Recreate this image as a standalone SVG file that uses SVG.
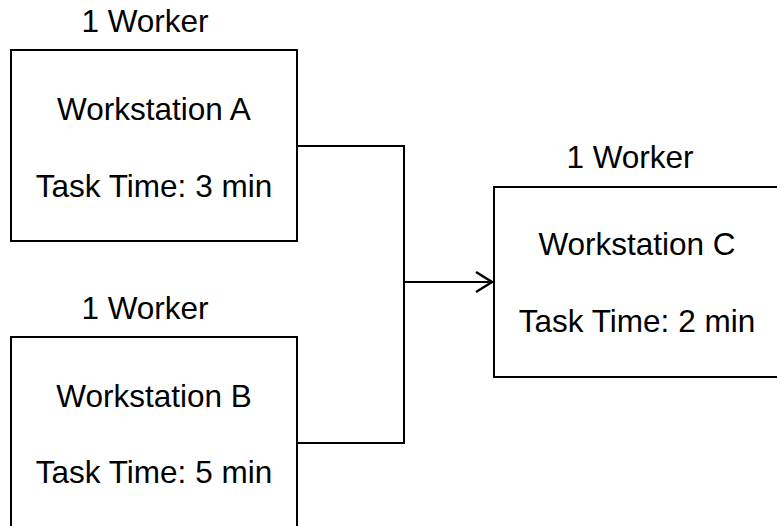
<svg xmlns="http://www.w3.org/2000/svg" width="777" height="526" viewBox="0 0 777 526">
<defs>
<style>
.box{fill:#fff;stroke:#000;stroke-width:2}
.t{font-family:"Liberation Sans",Arial,sans-serif;font-size:31.5px;fill:#000;text-anchor:middle}
.c{fill:none;stroke:#000;stroke-width:2}
</style>
<marker id="arr" markerWidth="20" markerHeight="24" refX="18" refY="11" orient="auto" markerUnits="userSpaceOnUse">
<path d="M2,1 L18,11 L2,21" fill="none" stroke="#000" stroke-width="2.4"/>
</marker>
</defs>
<rect width="777" height="526" fill="#fff"/>
<g id="connectors">
<polyline class="c" points="297,146 404,146 404,443 297,443"/>
<line class="c" x1="404" y1="282" x2="492" y2="282" marker-end="url(#arr)"/>
</g>
<g id="nodeA">
<text class="t" x="145" y="32">1 Worker</text>
<rect class="box" x="11" y="50" width="286" height="191"/>
<text class="t" x="154" y="120">Workstation A</text>
<text class="t" x="154" y="197">Task Time: 3 min</text>
</g>
<g id="nodeB">
<text class="t" x="145" y="319">1 Worker</text>
<rect class="box" x="11" y="337" width="286" height="191"/>
<text class="t" x="154" y="407">Workstation B</text>
<text class="t" x="154" y="483">Task Time: 5 min</text>
</g>
<g id="nodeC">
<text class="t" x="630" y="168">1 Worker</text>
<rect class="box" x="494" y="187" width="286" height="190"/>
<text class="t" x="637" y="255">Workstation C</text>
<text class="t" x="637" y="332">Task Time: 2 min</text>
</g>
</svg>
